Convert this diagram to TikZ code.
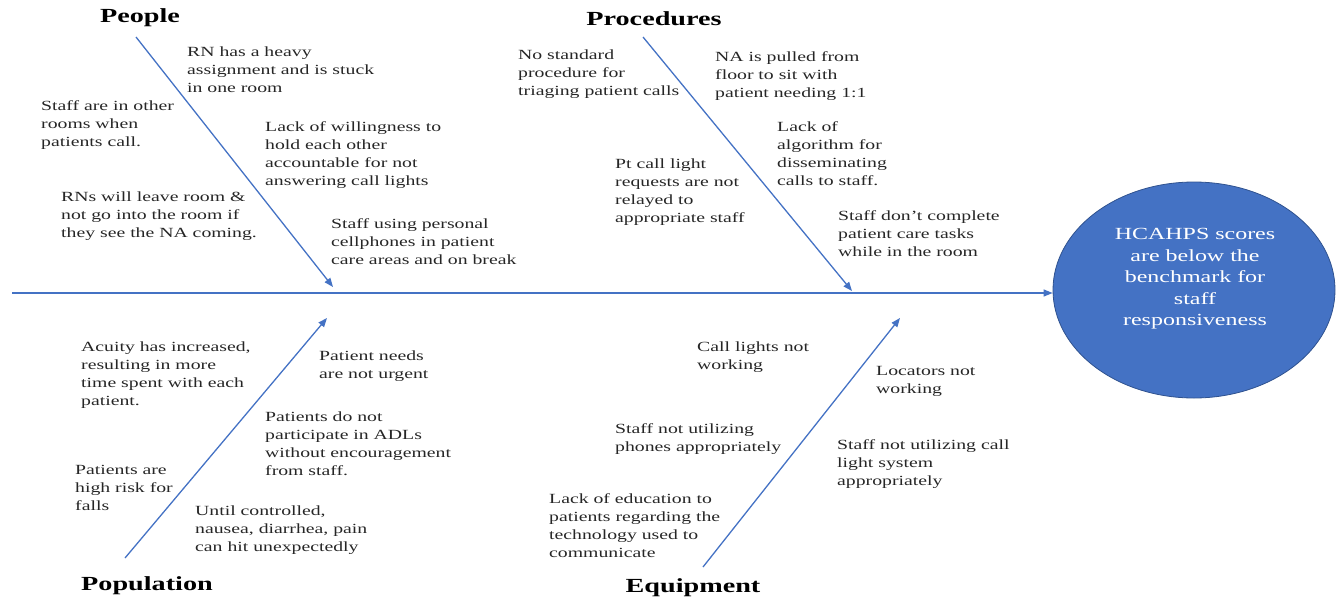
\documentclass[tikz,border=0pt]{standalone}
\usepackage{fontspec}
\setmainfont{Liberation Serif}[FakeStretch=1.41]
\usetikzlibrary{shapes.geometric,arrows.meta}
\definecolor{bl}{HTML}{4472C4}
\definecolor{bldark}{HTML}{2F528F}
\begin{document}
\begin{tikzpicture}[x=1pt,y=-1pt,
  txt/.style={anchor=north west,align=left,inner sep=0pt,font=\fontsize{14}{18}\selectfont,text=black!85,yshift=-3pt},
  ttl/.style={anchor=center,inner sep=0pt,font=\fontsize{20}{24}\selectfont\bfseries},
  bone/.style={draw=bl,line width=1.3pt,-{Triangle[length=9pt,width=7pt]}}]
\useasboundingbox (0,0) rectangle (1342,603);
% effect
\node[ellipse,fill=bl,draw=bldark,line width=0.8pt,minimum width=282pt,minimum height=216pt,inner sep=0pt] (eff) at (1194,290) {};
\node[align=center,text=white,inner sep=0pt,font=\fontsize{17}{21.5}\selectfont] (efftxt) at (1195,279)
  {HCAHPS scores\\are below the\\benchmark for\\staff\\responsiveness};
% spine
\coordinate (s0) at (12,293);
\draw[bone] (s0) -- (eff.west |- s0);
% bones
\coordinate (p0) at (136,37);  \coordinate (p1) at (333,287);
\coordinate (r0) at (643,37);  \coordinate (r1) at (852,291);
\coordinate (q0) at (125,558); \coordinate (q1) at (327,318);
\coordinate (e0) at (703,567); \coordinate (e1) at (900,318);
\draw[bone] (p0) -- (p1);
\draw[bone] (r0) -- (r1);
\draw[bone] (q0) -- (q1);
\draw[bone] (e0) -- (e1);
% titles
\node[ttl] (tpeople) at (140,18) {People};
\node[ttl] (tproc) at (654,19) {Procedures};
\node[ttl] (tpop) at (147,586) {Population};
\node[ttl] (tequip) at (693,588) {Equipment};
% People
\node[txt] (a1) at (187,44) {RN has a heavy\\assignment and is stuck\\in one room};
\node[txt] (a2) at (41,97) {Staff are in other\\rooms when\\patients call.};
\node[txt] (a3) at (265,118) {Lack of willingness to\\hold each other\\accountable for not\\answering call lights};
\node[txt] (a4) at (61,189) {RNs will leave room \&\\not go into the room if\\they see the NA coming.};
\node[txt] (a5) at (331,215) {Staff using personal\\cellphones in patient\\care areas and on break};
% Procedures
\node[txt] (b1) at (518,47) {No standard\\procedure for\\triaging patient calls};
\node[txt] (b2) at (715,48) {NA is pulled from\\floor to sit with\\patient needing 1:1};
\node[txt] (b3) at (777,118) {Lack of\\algorithm for\\disseminating\\calls to staff.};
\node[txt] (b4) at (615,156) {Pt call light\\requests are not\\relayed to\\appropriate staff};
\node[txt] (b5) at (838,207) {Staff don’t complete\\patient care tasks\\while in the room};
% Population
\node[txt] (c1) at (81,339) {Acuity has increased,\\resulting in more\\time spent with each\\patient.};
\node[txt] (c2) at (319,348) {Patient needs\\are not urgent};
\node[txt] (c3) at (265,409) {Patients do not\\participate in ADLs\\without encouragement\\from staff.};
\node[txt] (c4) at (75,462) {Patients are\\high risk for\\falls};
\node[txt] (c5) at (195,503) {Until controlled,\\nausea, diarrhea, pain\\can hit unexpectedly};
% Equipment
\node[txt] (d1) at (697,339) {Call lights not\\working};
\node[txt] (d2) at (876,363) {Locators not\\working};
\node[txt] (d3) at (615,420) {Staff not utilizing\\phones appropriately};
\node[txt] (d4) at (837,436) {Staff not utilizing call\\light system\\appropriately};
\node[txt] (d5) at (549,490) {Lack of education to\\patients regarding the\\technology used to\\communicate};
\end{tikzpicture}
\end{document}
